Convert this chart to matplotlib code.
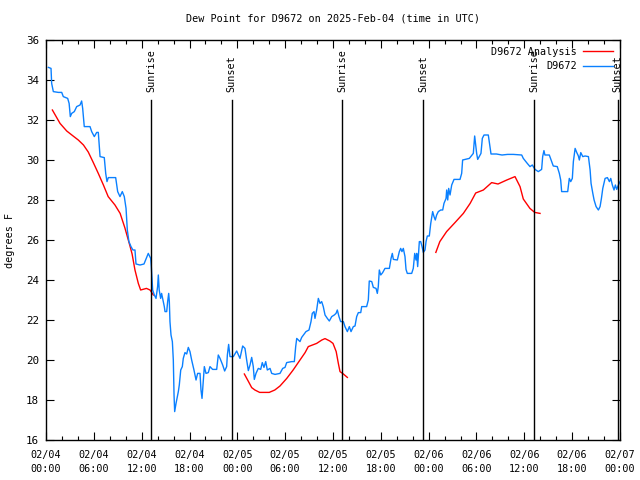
import matplotlib
matplotlib.use("Agg")
import matplotlib.pyplot as plt
from matplotlib.ticker import MultipleLocator

plt.rcParams['font.family'] = ['DejaVu Sans Mono']
FS = 7.3

title = "Dew Point for D9672 on 2025-Feb-04 (time in UTC)"
ylabel = "degrees F"

# hours since 2025-02-04 00:00 UTC
obs_hours = [0.3, 0.63, 0.71, 0.92, 1.55, 1.97, 2.17, 2.72, 2.9, 3.05, 3.22, 3.55, 3.85, 4.27, 4.47, 4.6, 4.8,
             5.52, 5.73, 6.06, 6.36, 6.56, 6.78, 7.31, 7.49, 7.65, 7.82, 8.74, 8.99, 9.28, 9.57, 9.82, 10.04,
             10.2, 10.4, 10.66, 10.9, 11.16, 11.29, 11.79, 12.29, 12.83, 13.13, 13.21, 13.3, 13.38, 13.59,
             13.8, 14.0, 14.09, 14.2, 14.38, 14.5, 14.63, 14.84, 14.93, 15.14, 15.26, 15.39, 15.47, 15.55,
             15.68, 15.85, 15.97, 16.06, 16.14, 16.31, 16.47, 16.6, 16.72, 16.9, 17.1, 17.22, 17.43, 17.65,
             17.85, 18.06, 18.27, 18.56, 18.82, 19.02, 19.32, 19.44, 19.57, 19.73, 19.86, 20.07, 20.36,
             20.57, 20.9, 21.41, 21.61, 21.83, 22.16, 22.41, 22.66, 22.75, 22.91, 23.08, 23.5, 23.92,
             24.33, 24.67, 24.96, 25.17, 25.38, 25.59, 25.8, 26.0, 26.13, 26.34, 26.63, 26.93, 27.13,
             27.34, 27.56, 27.76, 28.1, 28.31, 28.73, 29.35, 29.69, 29.98, 30.19, 30.82, 31.15, 31.32,
             31.45, 31.65, 31.86, 32.07, 32.61, 32.99, 33.24, 33.4, 33.62, 33.74, 33.95, 34.16, 34.37,
             34.58, 34.78, 35.0, 35.29, 35.54, 35.84, 36.16, 36.38, 36.54, 36.75, 36.96, 37.3, 37.5, 37.8,
             38.05, 38.26, 38.55, 38.76, 38.97, 39.18, 39.48, 39.6, 40.22, 40.43, 40.55, 40.86, 41.06,
             41.4, 41.56, 41.68, 41.81, 41.99, 42.23, 42.52, 43.07, 43.28, 43.44, 43.57, 44.07, 44.32,
             44.49, 44.65, 44.82, 45.03, 45.16, 45.32, 45.87, 46.07, 46.25, 46.41, 46.5, 46.62, 46.7,
             46.83, 47.0, 47.17, 47.33, 47.54, 47.67, 47.83, 48.08, 48.26, 48.5, 48.67, 48.83, 49.0,
             49.21, 49.51, 49.76, 49.92, 50.18, 50.26, 50.39, 50.51, 50.68, 50.89, 51.18, 51.93, 52.14,
             52.26, 52.56, 53.1, 53.6, 53.77, 54.02, 54.15, 54.56, 54.73, 54.94, 55.48, 55.69, 55.82,
             56.5, 57.2, 57.9, 58.62, 59.67, 59.87, 60.37, 60.71, 61.0, 61.34, 61.75, 62.17, 62.3, 62.46,
             62.58, 63.13, 63.43, 63.63, 64.13, 64.39, 64.56, 64.68, 65.44, 65.64, 65.82, 66.02, 66.15,
             66.37, 66.58, 66.78, 66.9, 67.08, 67.33, 67.62, 68.04, 68.25, 68.37, 68.59, 68.75, 69.0,
             69.29, 69.5, 69.67, 69.84, 70.13, 70.42, 70.67, 70.84, 71.04, 71.25, 71.42, 71.59, 71.8, 72.0]
obs_dewpt = [34.63, 34.58, 33.83, 33.42, 33.38, 33.38, 33.17, 33.08, 32.83, 32.17, 32.33, 32.42, 32.67, 32.75,
             32.95, 32.58, 31.67, 31.67, 31.42, 31.17, 31.38, 31.38, 30.17, 30.12, 29.33, 28.92, 29.12,
             29.12, 28.42, 28.17, 28.42, 28.17, 27.58, 26.5, 25.92, 25.67, 25.5, 25.5, 24.8, 24.75, 24.8,
             25.33, 25.08, 24.67, 24.0, 23.5, 23.25, 23.08, 23.67, 24.25, 23.5, 23.08, 23.33, 23.08, 22.67,
             22.42, 22.42, 22.92, 23.33, 22.92, 21.92, 21.25, 20.92, 20.0, 18.25, 17.42, 17.83, 18.17,
             18.42, 18.75, 19.5, 19.67, 20.08, 20.37, 20.3, 20.63, 20.42, 20.0, 19.5, 19.0, 19.33, 19.33,
             18.5, 18.08, 19.0, 19.67, 19.33, 19.37, 19.67, 19.53, 19.53, 20.25, 20.08, 19.75, 19.45,
             19.67, 20.25, 20.78, 20.17, 20.17, 20.45, 20.08, 20.7, 20.58, 20.0, 19.47, 19.75, 20.13,
             19.67, 19.03, 19.33, 19.58, 19.53, 19.87, 19.63, 19.92, 19.5, 19.58, 19.33, 19.28, 19.33,
             19.58, 19.63, 19.87, 19.92, 19.92, 20.67, 21.08, 21.0, 20.92, 21.13, 21.42, 21.5, 21.92,
             22.33, 22.42, 22.08, 22.5, 23.08, 22.83, 22.92, 22.67, 22.25, 22.08, 21.95, 22.17, 22.25,
             22.33, 22.5, 22.17, 21.92, 21.92, 21.67, 21.42, 21.67, 21.42, 21.67, 21.7, 22.17, 22.37,
             22.37, 22.67, 22.67, 23.0, 23.95, 23.92, 23.63, 23.58, 23.33, 23.67, 24.5, 24.25, 24.37,
             24.58, 24.58, 25.08, 25.33, 25.03, 25.0, 25.42, 25.58, 25.42, 25.58, 25.17, 24.53, 24.33,
             24.33, 24.58, 25.33, 25.0, 25.33, 24.67, 25.17, 25.92, 25.92, 25.67, 25.38, 25.5, 25.92,
             26.2, 26.2, 26.83, 27.42, 27.17, 27.0, 27.25, 27.42, 27.5, 27.5, 27.83, 28.08, 28.5, 28.0,
             28.58, 28.25, 28.75, 29.03, 29.03, 29.33, 30.0, 30.03, 30.08, 30.33, 31.2, 30.33, 30.03,
             30.33, 31.08, 31.25, 31.25, 30.67, 30.3, 30.3, 30.25, 30.28, 30.28, 30.25, 30.08, 29.83,
             29.67, 29.75, 29.53, 29.42, 29.53, 30.17, 30.47, 30.25, 30.25, 29.92, 29.7, 29.67, 29.33,
             29.0, 28.42, 28.42, 29.08, 28.92, 29.08, 29.92, 30.58, 30.37, 30.2, 30.0, 30.37, 30.17, 30.2,
             30.17, 29.5, 28.83, 28.33, 28.0, 27.67, 27.5, 27.67, 28.08, 28.58, 29.08, 29.12, 28.92,
             29.08, 28.75, 28.5, 28.75, 28.53, 28.75, 28.92]

ana1_hours = [0.8, 1.76, 2.6, 3.4, 4.05, 4.7, 5.3, 5.9, 6.56, 7.2, 7.8, 8.65, 9.3, 9.9, 10.5, 10.8, 11.16,
              11.58, 11.87, 12.6, 13.05, 13.46]
ana1_dewpt = [32.5, 31.83, 31.45, 31.2, 31.0, 30.75, 30.4, 29.9, 29.33, 28.75, 28.17, 27.75, 27.33, 26.6,
              25.75, 25.3, 24.5, 23.83, 23.5, 23.58, 23.5, 23.25]
ana2_hours = [24.88, 25.4, 25.8, 26.2, 26.8, 28.0, 28.7, 29.35, 30.2, 31.0, 31.86, 32.5, 32.9, 33.95, 34.6,
              35.0, 35.6, 36.0, 36.4, 36.67, 36.88, 37.3, 37.8]
ana2_dewpt = [19.3, 18.92, 18.62, 18.5, 18.38, 18.38, 18.5, 18.7, 19.08, 19.5, 20.0, 20.37, 20.67, 20.83,
              21.0, 21.07, 20.95, 20.83, 20.42, 19.83, 19.42, 19.3, 19.13]
ana3_hours = [48.9, 49.4, 50.25, 51.3, 52.35, 53.2, 53.9, 54.86, 55.9, 56.7, 57.8, 58.83, 59.46, 59.87,
              60.7, 61.3, 61.97]
ana3_dewpt = [25.38, 25.92, 26.42, 26.87, 27.33, 27.83, 28.35, 28.5, 28.87, 28.8, 29.0, 29.17, 28.67, 28.05,
              27.58, 27.38, 27.33]

sun_hours = [13.21, 23.27, 37.17, 47.33, 61.25, 71.71]
sun_labels = ["Sunrise", "Sunset", "Sunrise", "Sunset", "Sunrise", "Sunset"]

xtick_hours = [0, 6, 12, 18, 24, 30, 36, 42, 48, 54, 60, 66, 72]
xtick_labels = ["02/04\n00:00", "02/04\n06:00", "02/04\n12:00", "02/04\n18:00",
                "02/05\n00:00", "02/05\n06:00", "02/05\n12:00", "02/05\n18:00",
                "02/06\n00:00", "02/06\n06:00", "02/06\n12:00", "02/06\n18:00",
                "02/07\n00:00"]

fig = plt.figure(figsize=(6.4, 4.8), dpi=100)
ax = fig.add_axes([46/640, 40/480, 574/640, 400/480])

for seg_h, seg_v in [(ana1_hours, ana1_dewpt), (ana2_hours, ana2_dewpt), (ana3_hours, ana3_dewpt)]:
    ax.plot(seg_h, seg_v, color='#ff0000', lw=1.0,
            label="D9672 Analysis" if seg_h is ana1_hours else None)
ax.plot(obs_hours, obs_dewpt, color='#0a80ff', lw=1.0, label="D9672")

for h, lab in zip(sun_hours, sun_labels):
    ax.plot([h, h], [16, 33.0], color='black', lw=1.0)
    ax.text(h, 33.4, lab, rotation=90, ha='center', va='bottom', fontsize=FS)

ax.set_xlim(0, 72)
ax.set_ylim(16, 36)
ax.set_xticks(xtick_hours)
ax.set_xticklabels(xtick_labels, fontsize=FS, linespacing=1.5)
ax.xaxis.set_minor_locator(MultipleLocator(2))
ax.set_yticks(range(16, 37, 2))
ax.tick_params(axis='y', labelsize=FS + 0.5, pad=5)
ax.tick_params(axis='x', pad=7)
ax.tick_params(which='major', direction='in', length=6, top=True, right=True, width=0.8)
ax.tick_params(which='minor', direction='in', length=3, top=True, right=False, width=0.8)
for s in ax.spines.values():
    s.set_linewidth(1.0)

ax.set_title(title, fontsize=FS, pad=13)
ax.set_ylabel(ylabel, fontsize=FS, labelpad=8)

ax.legend(loc='upper right', frameon=False, markerfirst=False, fontsize=FS,
          handlelength=3.0, borderaxespad=0.25, labelspacing=0.45, handletextpad=0.6)

fig.savefig("out.png", dpi=100)
